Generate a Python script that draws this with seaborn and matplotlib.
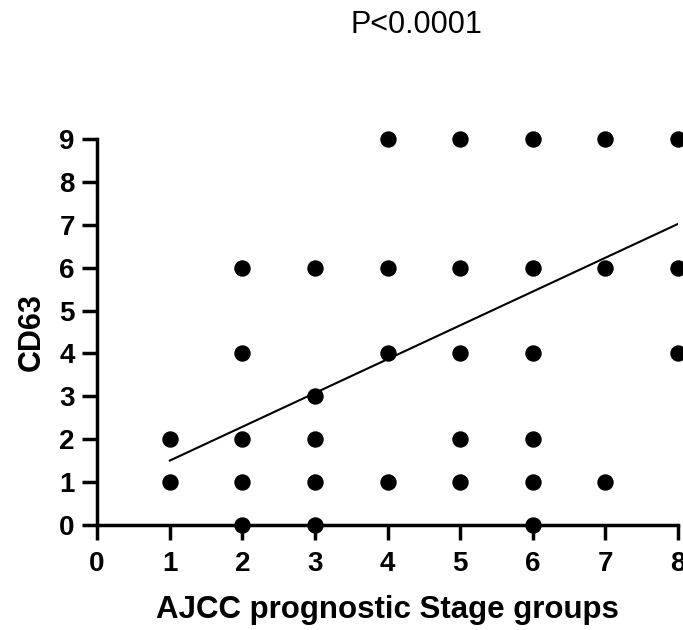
import numpy as np
import pandas as pd
import matplotlib
matplotlib.use("Agg")
import matplotlib.pyplot as plt
import seaborn as sns

# stage group (x) and CD63 score (y), one entry per visible dot
stage = [1, 1,
         2, 2, 2, 2, 2,
         3, 3, 3, 3, 3,
         4, 4, 4, 4,
         5, 5, 5, 5, 5,
         6, 6, 6, 6, 6, 6,
         7, 7, 7,
         8, 8, 8]
cd63 = [1, 2,
        0, 1, 2, 4, 6,
        0, 1, 2, 3, 6,
        1, 4, 6, 9,
        1, 2, 4, 6, 9,
        0, 1, 2, 4, 6, 9,
        1, 6, 9,
        4, 6, 9]

# fitted line end points
fit_x = [1, 8]
fit_y = [1.5, 7.02]

df = pd.DataFrame({"stage": stage, "cd63": cd63})
fit = pd.DataFrame({"stage": fit_x, "cd63": fit_y})

sns.set_style("ticks")
plt.rcParams["font.family"] = ["Liberation Sans", "DejaVu Sans"]
plt.rcParams["text.color"] = "black"
plt.rcParams["axes.labelcolor"] = "black"

fig = plt.figure(figsize=(6.83, 6.30), dpi=100)
ax = fig.add_axes([97 / 683, 1 - 525 / 630, (678 - 97) / 683, (525 - 139) / 630])

sns.lineplot(data=fit, x="stage", y="cd63", color="black", linewidth=1.5, ax=ax)
sns.scatterplot(data=df, x="stage", y="cd63", color="black", s=140,
                edgecolor="black", linewidth=0, clip_on=False, zorder=5, ax=ax)

ax.set_xlim(0, 8)
ax.set_ylim(0, 9)
ax.set_xticks(range(0, 9))
ax.set_yticks(range(0, 10))
sns.despine(ax=ax)
for side in ["left", "bottom"]:
    ax.spines[side].set_linewidth(2.5)
    ax.spines[side].set_color("black")
ax.tick_params(width=2.5, length=11, labelsize=20, color="black", labelcolor="black")
ax.tick_params(axis="x", pad=8)
ax.tick_params(axis="y", pad=5)
for lab in ax.get_xticklabels() + ax.get_yticklabels():
    lab.set_fontweight("bold")

ax.set_xlabel("AJCC prognostic Stage groups", fontsize=22.5, fontweight="bold", labelpad=13)
ax.set_ylabel("CD63", fontsize=22, fontweight="bold", labelpad=9)

fig.text(416 / 683, 1 - 25 / 630, "P<0.0001", fontsize=22, ha="center", va="center")

fig.savefig("out.png", dpi=100)
